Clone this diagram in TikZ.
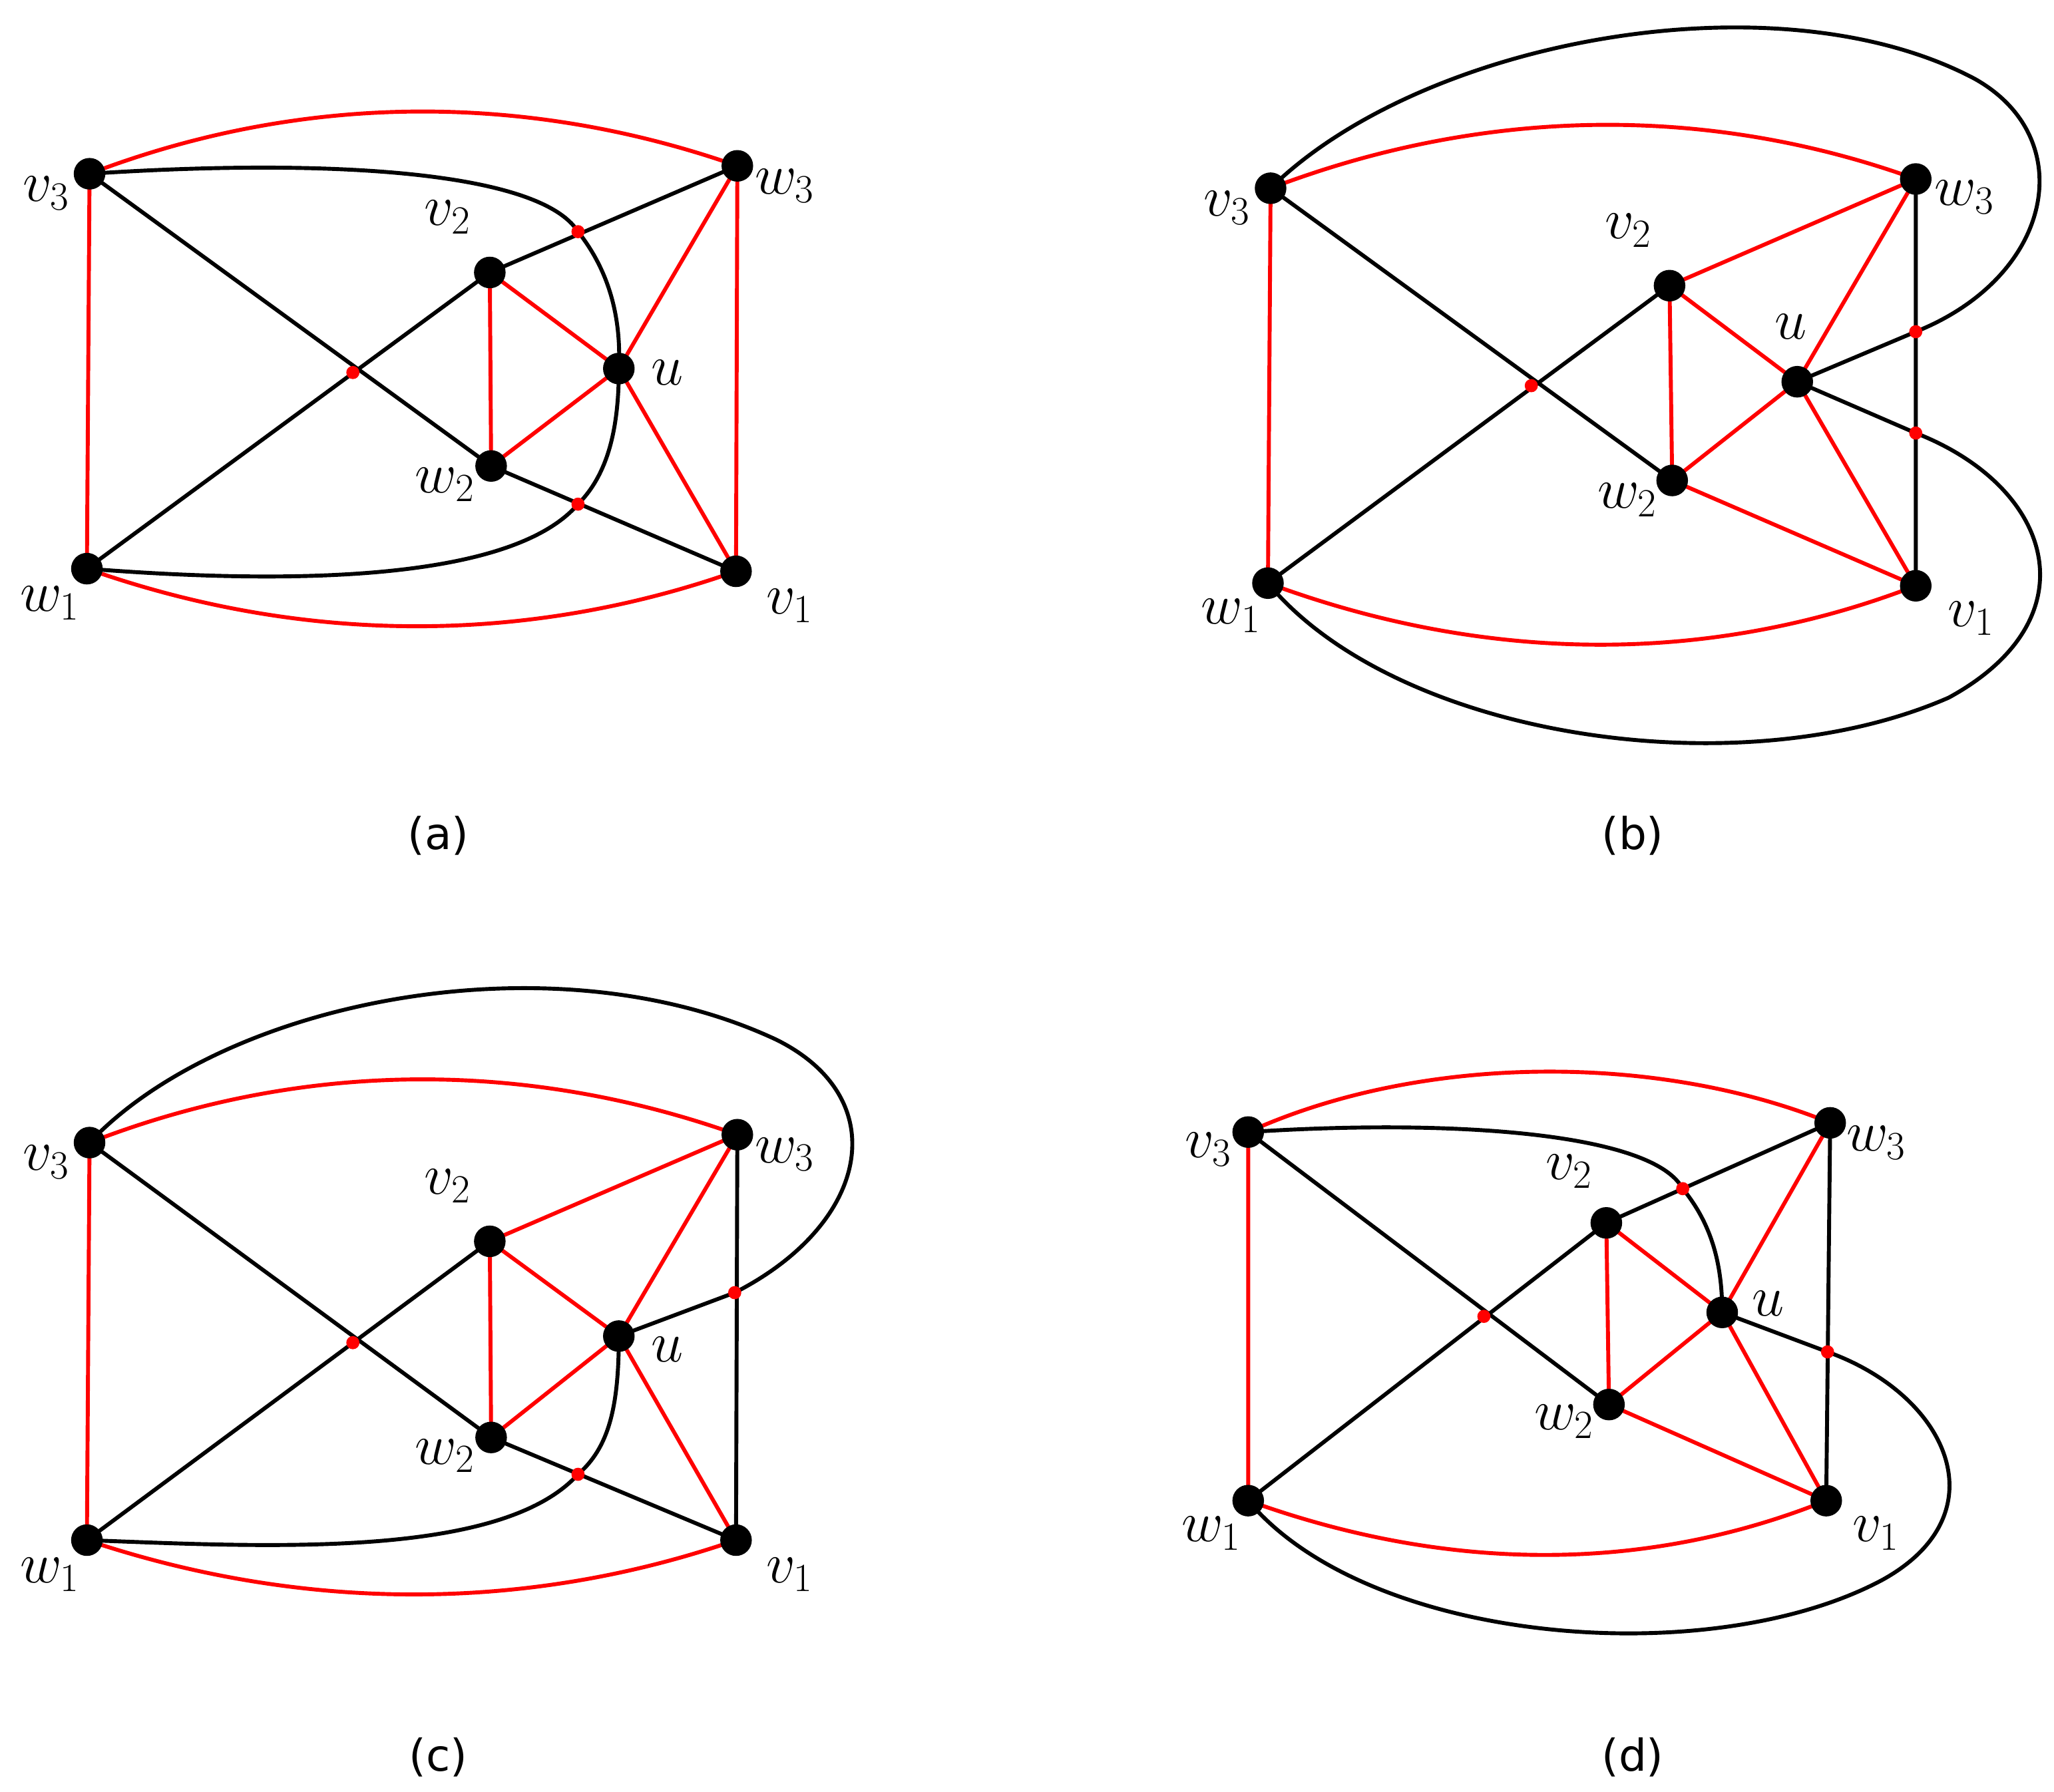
\documentclass[tikz,border=0pt]{standalone}
\usepackage{fontspec}
\setsansfont{DejaVu Sans}
\begin{document}
\begin{tikzpicture}[x=0.02cm,y=-0.02cm]
\tikzset{vtx/.style={circle,fill=black,inner sep=0pt,minimum size=0.48cm},
 sdot/.style={circle,fill=red,inner sep=0pt,minimum size=0.2cm},
 re/.style={red,line width=1.7pt},
 be/.style={black,line width=1.7pt},
 lab/.style={font=\fontsize{26}{26}\selectfont,inner sep=0pt},
 captxt/.style={font=\sffamily\fontsize{19}{19}\selectfont}}
\useasboundingbox (0,0) rectangle (1560,1361);
% ---------- (a)
\foreach \n/\x/\y in {v3/68/132,w3/560/126,v2/372/207,u/470/280,w2/373/354,w1/66/432,v1/559/434}
  \coordinate (a\n) at (\x,\y);
\foreach \n/\x/\y in {d1/268/283,d2/439/176,d3/439/383} \coordinate (a\n) at (\x,\y);
\draw[re] (av3) .. controls (230,70) and (400,70) .. (aw3);
\draw[re] (aw1) .. controls (230,490) and (400,490) .. (av1);
\draw[re] (av3)--(aw1) (aw3)--(av1) (av2)--(aw2) (av2)--(au) (aw2)--(au) (aw3)--(au) (au)--(av1);
\draw[be] (av3)--(aw2) (aw1)--(av2) (av2)--(aw3) (aw2)--(av1);
\draw[be] (av3) .. controls (250,120) and (410,130) .. (ad2) .. controls (462,205) and (472,240) .. (au)
  .. controls (470,325) and (462,360) .. (ad3) .. controls (390,440) and (230,445) .. (aw1);
\foreach \n in {v3,w3,v2,u,w2,w1,v1} \node[vtx] (A\n) at (a\n) {};
\foreach \n in {d1,d2,d3} \node[sdot] (A\n) at (a\n) {};
\node[lab] (la1) at (35,147) {$v_3$};
\node[lab] (la2) at (596,141) {$w_3$};
\node[lab] (la3) at (340,165) {$v_2$};
\node[lab] (la4) at (507,283) {$u$};
\node[lab] (la5) at (338,368) {$w_2$};
\node[lab] (la6) at (38,458) {$w_1$};
\node[lab] (la7) at (600,460) {$v_1$};
\node[captxt] (ca) at (333,635) {(a)};
% ---------- (b)
\foreach \n/\x/\y in {v3/965/143,w3/1455/136,v2/1268/217,u/1365/290,w2/1270/365,w1/963/443,v1/1455/445}
  \coordinate (b\n) at (\x,\y);
\foreach \n/\x/\y in {d1/1163/293,d2/1455/252,d3/1455/329} \coordinate (b\n) at (\x,\y);
\draw[re] (bv3) .. controls (1130,80) and (1300,80) .. (bw3);
\draw[re] (bw1) .. controls (1130,505) and (1300,505) .. (bv1);
\draw[re] (bv3)--(bw1) (bv2)--(bw3) (bv2)--(bw2) (bv2)--(bu) (bw2)--(bu) (bu)--(bw3) (bu)--(bv1) (bw2)--(bv1);
\draw[be] (bv3)--(bw2) (bw1)--(bv2) (bw3)--(bv1);
\draw[be] (bv3) .. controls (1080,30) and (1350,-20) .. (1500,60) .. controls (1580,105) and (1560,210) .. (bd2) -- (bu);
\draw[be] (bu) -- (bd3) .. controls (1560,370) and (1590,470) .. (1480,530) .. controls (1320,600) and (1060,560) .. (bw1);
\foreach \n in {v3,w3,v2,u,w2,w1,v1} \node[vtx] (B\n) at (b\n) {};
\foreach \n in {d1,d2,d3} \node[sdot] (B\n) at (b\n) {};
\node[lab] (lb1) at (932,158) {$v_3$};
\node[lab] (lb2) at (1492,150) {$w_3$};
\node[lab] (lb3) at (1237,175) {$v_2$};
\node[lab] (lb4) at (1360,248) {$u$};
\node[lab] (lb5) at (1236,380) {$w_2$};
\node[lab] (lb6) at (935,468) {$w_1$};
\node[lab] (lb7) at (1497,470) {$v_1$};
\node[captxt] (cb) at (1240,635) {(b)};
% ---------- (c)
\foreach \n/\x/\y in {v3/68/868,w3/560/862,v2/372/943,u/470/1015,w2/373/1092,w1/66/1170,v1/559/1170}
  \coordinate (c\n) at (\x,\y);
\foreach \n/\x/\y in {d1/268/1020,d2/558/982,d3/439/1120} \coordinate (c\n) at (\x,\y);
\draw[re] (cv3) .. controls (230,805) and (400,805) .. (cw3);
\draw[re] (cw1) .. controls (230,1225) and (400,1225) .. (cv1);
\draw[re] (cv3)--(cw1) (cv2)--(cw3) (cv2)--(cw2) (cv2)--(cu) (cw2)--(cu) (cu)--(cw3) (cu)--(cv1);
\draw[be] (cv3)--(cw2) (cw1)--(cv2) (cw3)--(cv1) (cw2)--(cv1);
\draw[be] (cv3) .. controls (170,760) and (420,710) .. (590,790) .. controls (680,835) and (660,930) .. (cd2) -- (cu);
\draw[be] (cu) .. controls (470,1070) and (462,1100) .. (cd3) .. controls (380,1185) and (200,1175) .. (cw1);
\foreach \n in {v3,w3,v2,u,w2,w1,v1} \node[vtx] (C\n) at (c\n) {};
\foreach \n in {d1,d2,d3} \node[sdot] (C\n) at (c\n) {};
\node[lab] (lc1) at (35,883) {$v_3$};
\node[lab] (lc2) at (596,877) {$w_3$};
\node[lab] (lc3) at (340,901) {$v_2$};
\node[lab] (lc4) at (507,1025) {$u$};
\node[lab] (lc5) at (338,1106) {$w_2$};
\node[lab] (lc6) at (38,1196) {$w_1$};
\node[lab] (lc7) at (600,1196) {$v_1$};
\node[captxt] (cc) at (333,1335) {(c)};
% ---------- (d)
\foreach \n/\x/\y in {v3/948/860,w3/1390/853,v2/1220/929,u/1308/997,w2/1222/1067,w1/948/1140,v1/1387/1140}
  \coordinate (d\n) at (\x,\y);
\foreach \n/\x/\y in {d1/1127/1000,d2/1278/903,d3/1388/1027} \coordinate (d\n) at (\x,\y);
\draw[re] (dv3) .. controls (1080,800) and (1260,800) .. (dw3);
\draw[re] (dw1) .. controls (1100,1195) and (1250,1195) .. (dv1);
\draw[re] (dv3)--(dw1) (dv2)--(dw2) (dv2)--(du) (dw2)--(du) (du)--(dw3) (du)--(dv1) (dw2)--(dv1);
\draw[be] (dv3)--(dw2) (dw1)--(dv2) (dv2)--(dw3) (dw3)--(dv1);
\draw[be] (dv3) .. controls (1100,850) and (1255,860) .. (dd2) .. controls (1300,930) and (1308,960) .. (du);
\draw[be] (du) -- (dd3) .. controls (1480,1060) and (1520,1150) .. (1430,1200) .. controls (1300,1270) and (1040,1250) .. (dw1);
\foreach \n in {v3,w3,v2,u,w2,w1,v1} \node[vtx] (D\n) at (d\n) {};
\foreach \n in {d1,d2,d3} \node[sdot] (D\n) at (d\n) {};
\node[lab] (ld1) at (918,873) {$v_3$};
\node[lab] (ld2) at (1425,868) {$w_3$};
\node[lab] (ld3) at (1192,890) {$v_2$};
\node[lab] (ld4) at (1343,990) {$u$};
\node[lab] (ld5) at (1188,1080) {$w_2$};
\node[lab] (ld6) at (920,1165) {$w_1$};
\node[lab] (ld7) at (1425,1165) {$v_1$};
\node[captxt] (cd) at (1240,1335) {(d)};
\end{tikzpicture}
\end{document}
